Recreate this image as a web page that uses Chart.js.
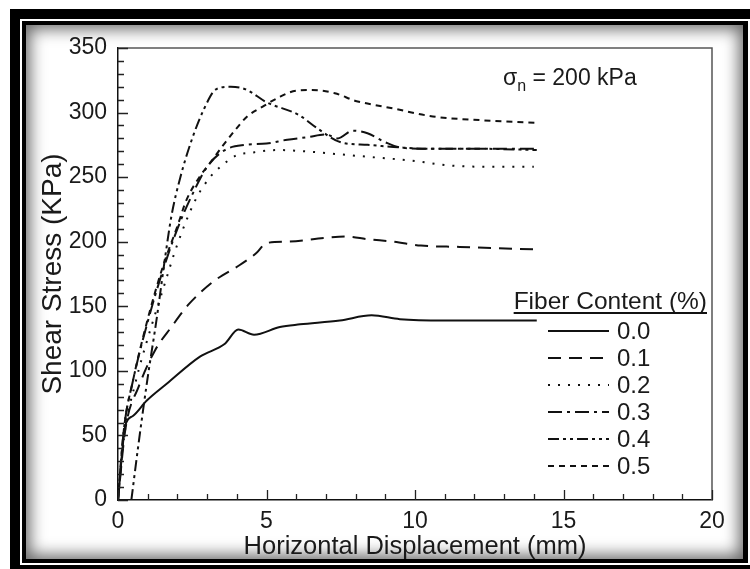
<!DOCTYPE html>
<html><head><meta charset="utf-8">
<script src="https://cdn.jsdelivr.net/npm/chart.js@4.4.0/dist/chart.umd.min.js"></script>
<style>
html,body{margin:0;padding:0;background:#fff;width:750px;height:569px;overflow:hidden;}
.f{position:absolute;}
</style></head><body>
<div class="f" style="left:10px;top:9px;width:760px;height:580px;background:#000"></div>
<div class="f" style="left:20px;top:19px;width:740px;height:546px;background:#fff"></div>
<div class="f" style="left:22px;top:21px;width:726px;height:542px;background:#000"></div>
<div class="f" style="left:26px;top:25px;width:717px;height:534px;background:#fff;box-shadow:inset 0 0 16px 4px rgba(0,0,0,0.6)"></div>
<canvas id="c" width="750" height="569" style="position:absolute;left:0;top:0;"></canvas>
<script>
// ---- data ----
const fiberLabels = ['0.0','0.1','0.2','0.3','0.4','0.5'];
const xTickValues = [0,5,10,15,20];
const yTickValues = [0,50,100,150,200,250,300,350];

const x00 = [0, 0.25, 0.5, 0.97, 1.64, 2.76, 3.6, 4.05, 4.58, 5.45, 6.13, 7.47, 8.54, 9.49, 11, 12.5, 14.1];
const y00 = [0, 58, 65, 77, 90, 111, 121, 132, 128, 134, 136, 139, 143, 140, 139, 139, 139];

const x01 = [0, 0.25, 0.7, 1.25, 1.8, 2.4, 3.2, 4.1, 4.65, 5.0, 5.7, 7.0, 7.7, 8.4, 9.3, 10.2, 11.5, 12.8, 14.1];
const y01 = [0, 55, 88, 116, 134, 152, 169, 182, 191, 199, 200, 203, 204, 202, 200, 197, 196, 195, 194];

const x02 = [0, 0.2, 0.6, 1.0, 1.5, 2.0, 2.6, 3.1, 3.5, 4.0, 4.5, 5.4, 6.3, 7.3, 8.8, 9.8, 11.2, 12.5, 14.0];
const y02 = [0, 48, 92, 125, 162, 198, 232, 250, 259, 267, 269, 271, 270, 268, 265, 263, 259, 258, 258];

const x03 = [0, 0.2, 0.5, 1.0, 1.5, 2.0, 2.45, 3.0, 3.6, 4.3, 5.0, 5.7, 6.4, 7.0, 7.4, 7.9, 8.4, 9.0, 9.5, 10.5, 12, 14.1];
const y03 = [0, 55, 92, 138, 177, 210, 234, 258, 271, 275, 276, 279, 281, 283, 280, 286, 284, 277, 273, 272, 272, 272];

const x04 = [0.45, 0.7, 1.0, 1.3, 1.6, 1.8, 2.1, 2.5, 2.9, 3.3, 3.8, 4.3, 5.0, 6.1, 6.7, 7.5, 8.4, 9.5, 10.5, 12, 14.1];
const y04 = [0, 45, 95, 140, 190, 220, 250, 280, 303, 318, 320, 318, 308, 298, 288, 277, 275, 273, 272, 272, 271];

const x05 = [0, 0.2, 0.5, 1.0, 1.5, 2.0, 2.3, 2.8, 3.1, 3.55, 4.0, 4.35, 4.9, 5.35, 6.0, 6.5, 7.3, 8.0, 8.4, 9.3, 10.6, 12.3, 14.1];
const y05 = [0, 55, 92, 140, 180, 212, 232, 252, 261, 275, 288, 297, 305, 311, 317, 317.5, 315, 309, 307, 303, 297, 294, 292];

const seriesX = [x00, x01, x02, x03, x04, x05];
const seriesY = [y00, y01, y02, y03, y04, y05];

// ---- styles ----
const dashStyles = [[], [13, 8], [2, 8], [14, 5, 3, 5], [11, 4, 3, 4, 3, 4], [6, 5]];
const FONT = "'Liberation Sans', Arial, Helvetica, sans-serif";
const INK = '#111';

const datasets = fiberLabels.map((lab, i) => ({
  label: lab,
  data: seriesX[i].map((x, j) => ({x: x, y: seriesY[i][j]})),
  borderColor: INK,
  borderWidth: 2,
  borderDash: dashStyles[i],
  pointRadius: 0,
  fill: false,
  tension: 0.4,
  cubicInterpolationMode: 'monotone'
}));

const decor = {
  id: 'decor',
  afterDatasetsDraw(chart) {
    const {ctx, chartArea: a, scales: {x, y}} = chart;
    ctx.save();
    // plot box top/right
    ctx.strokeStyle = '#555'; ctx.lineWidth = 1.5; ctx.setLineDash([]);
    ctx.beginPath();
    ctx.moveTo(a.left, a.top); ctx.lineTo(a.right, a.top); ctx.lineTo(a.right, a.bottom);
    ctx.stroke();
    // inward ticks
    ctx.strokeStyle = '#222'; ctx.lineWidth = 1.3;
    ctx.beginPath();
    for (let v = 0; v <= 350; v += 10) {
      const py = Math.round(y.getPixelForValue(v)) + 0.5;
      const L = (v % 50 === 0) ? 10 : 6;
      ctx.moveTo(a.left, py); ctx.lineTo(a.left + L, py);
    }
    for (let v = 0; v <= 20; v += 1) {
      const px = Math.round(x.getPixelForValue(v)) + 0.5;
      const L = (v % 5 === 0) ? 10 : 6;
      ctx.moveTo(px, a.bottom); ctx.lineTo(px, a.bottom - L);
    }
    ctx.stroke();

    // sigma annotation
    ctx.fillStyle = '#1a1a1a';
    ctx.textBaseline = 'alphabetic';
    ctx.textAlign = 'left';
    ctx.font = '23px ' + FONT;
    let tx = 503, ty = 85;
    ctx.fillText('σ', tx, ty);
    tx += ctx.measureText('σ').width;
    ctx.font = '16px ' + FONT;
    ctx.fillText('n', tx, ty + 6);
    tx += ctx.measureText('n').width;
    ctx.font = '23px ' + FONT;
    ctx.fillText(' = 200 kPa', tx, ty);

    // legend
    ctx.font = '24.5px ' + FONT;
    const title = 'Fiber Content (%)';
    const tw = ctx.measureText(title).width;
    const titleRight = 707;
    ctx.fillText(title, titleRight - tw, 309);
    ctx.lineWidth = 2; ctx.strokeStyle = INK;
    ctx.beginPath(); ctx.moveTo(titleRight - tw, 313); ctx.lineTo(titleRight, 313); ctx.stroke();
    ctx.textBaseline = 'middle';
    ctx.font = '24px ' + FONT;
    fiberLabels.forEach((lab, i) => {
      const ry = 331 + i * 27;
      ctx.setLineDash(dashStyles[i]);
      ctx.lineWidth = 2;
      ctx.beginPath(); ctx.moveTo(548, ry); ctx.lineTo(609, ry); ctx.stroke();
      ctx.setLineDash([]);
      ctx.fillText(lab, 617, ry + 1);
    });
    ctx.restore();
  }
};

new Chart(document.getElementById('c'), {
  type: 'line',
  data: {datasets: datasets},
  options: {
    responsive: false,
    animation: false,
    events: [],
    layout: {padding: {top: 48, right: 38, left: 0, bottom: 0}},
    plugins: {legend: {display: false}, tooltip: {enabled: false}, title: {display: false}},
    scales: {
      x: {
        type: 'linear', min: 0, max: 20,
        afterBuildTicks: s => { s.ticks = xTickValues.map(v => ({value: v})); },
        afterFit: s => { s.height = 69; },
        grid: {display: false, drawTicks: false},
        border: {display: true, color: INK, width: 1.5},
        ticks: {color: '#1a1a1a', font: {family: FONT, size: 23}, padding: 8, maxRotation: 0},
        title: {display: true, text: 'Horizontal Displacement (mm)', color: '#1a1a1a',
                font: {family: FONT, size: 25.5}, padding: {top: 0, bottom: 7}}
      },
      y: {
        type: 'linear', min: 0, max: 350,
        afterBuildTicks: s => { s.ticks = yTickValues.map(v => ({value: v})); },
        afterFit: s => { s.width = 118; },
        grid: {display: false, drawTicks: false},
        border: {display: true, color: INK, width: 1.5},
        ticks: {color: '#1a1a1a', font: {family: FONT, size: 23}, padding: 11},
        title: {display: true, text: 'Shear Stress (KPa)', color: '#1a1a1a',
                font: {family: FONT, size: 28}, padding: {top: 36, bottom: 0}}
      }
    }
  },
  plugins: [decor]
});
</script>
</body></html>
